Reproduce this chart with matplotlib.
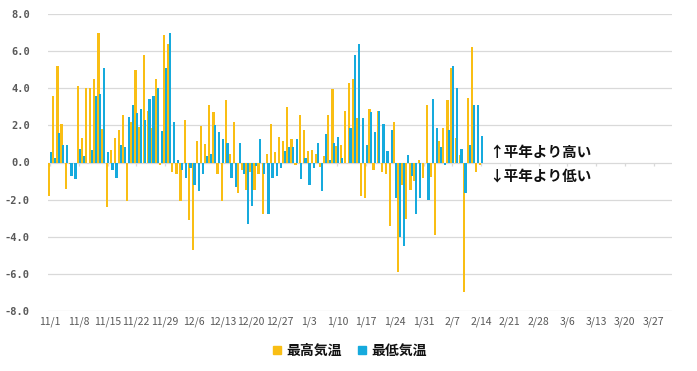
import numpy as np
import pandas as pd
import matplotlib
matplotlib.use("Agg")
import matplotlib.pyplot as plt
from matplotlib.patches import Patch

plt.rcParams['font.family'] = ['Noto Sans CJK JP', 'DejaVu Sans']

# ---- data: deviation from normal (°C), daily from 2023-11-01 ----
start_date = "2023-11-01"
end_date = "2024-03-31"

high_dev = [  # 最高気温
    -1.8, 3.6, 5.2, 2.1, -1.45, -0.1, 0.0, 4.1, 1.3, 4.0,
    4.0, 4.5, 7.0, 1.8, -2.4, 0.7, 1.3, 1.75, 2.55, -2.1,
    2.2, 5.0, 1.9, 5.8, 2.8, 1.85, 4.5, -0.15, 6.85, 6.4,
    -0.5, -0.6, -2.1, 2.3, -3.1, -4.7, 1.15, 1.95, 1.0, 3.1,
    2.7, -0.6, -2.1, 3.35, 0.45, 2.2, -1.65, -0.4, -1.5, -0.5,
    -1.5, -0.6, -2.8, 0.45, 2.1, 0.55, 1.4, 1.15, 3.0, 1.25,
    -0.12, 2.55, 1.75, 0.6, 0.7, 0.45, -0.25, 0.35, 2.55, 3.95,
    0.9, 0.95, 2.8, 4.3, 4.5, 2.4, -1.8, -1.9, 2.9, -0.4,
    2.8, -0.5, -0.6, -3.4, 2.2, -5.9, -1.2, -3.05, -1.5, -1.0,
    0.12, -0.85, 3.1, -0.8, -3.9, 1.15, 1.85, 3.35, 5.1, 1.3,
    0.4, -7.0, 3.5, 6.2, -0.5, -0.12,
]
low_dev = [  # 最低気温
    0.55, 0.23, 1.6, 0.92, 0.92, -0.72, -0.9, 0.71, 0.34, 0.0,
    0.7, 3.6, 3.7, 5.1, 0.55, -0.4, -0.82, 0.93, 0.84, 2.45,
    3.1, 2.64, 2.9, 2.3, 3.4, 3.6, 4.0, 1.72, 5.1, 7.0,
    2.2, 0.12, -0.4, -0.82, -0.27, -1.2, -1.52, -0.62, 0.35, 0.44,
    2.0, 1.62, 1.25, 1.04, -0.82, -1.3, 1.04, -0.6, -3.3, -2.37,
    -0.17, 1.25, -0.6, -2.8, -0.82, -0.72, -0.27, 0.6, 0.84, 0.84,
    1.25, -0.9, 0.22, -1.2, -0.3, 1.04, -1.52, 1.52, 0.12, 1.04,
    1.4, 0.22, 0.0, 1.84, 5.8, 6.4, 2.42, 0.93, 2.7, 1.63,
    2.8, 2.1, 0.6, 1.73, -1.9, -4.0, -4.5, 0.43, -0.72, -2.8,
    -1.9, 0.0, -2.0, 3.4, 1.84, 0.82, -0.12, 1.73, 5.2, 4.0,
    0.71, -1.66, 0.93, 3.1, 3.1, 1.41,
]
series_names = ["最高気温", "最低気温"]
y_ticks = [-8, -6, -4, -2, 0, 2, 4, 6, 8]
note_up = "↑平年より高い"
note_down = "↓平年より低い"

# ---- styling ----
YELLOW = "#F9BE14"
BLUE = "#16AADD"
GRID = "#D9D9D9"
TXT = "#595959"

dates = pd.date_range(start_date, end_date, freq="D")
n_days = len(dates)
x = np.arange(len(high_dev))

W, H = 697, 371
fig = plt.figure(figsize=(W / 100, H / 100), dpi=100)
ax = fig.add_axes([48 / W, 1 - 311 / H, 624 / W, 297 / H])

ax.bar(x - 0.21, high_dev, width=0.54, color=YELLOW, zorder=2, linewidth=0)
ax.bar(x + 0.21, low_dev, width=0.54, color=BLUE, zorder=3, linewidth=0)

ax.set_xlim(-0.5, n_days - 0.5)
ax.set_ylim(y_ticks[0], y_ticks[-1])

for v in y_ticks:
    ax.axhline(v, color=GRID, lw=0.9, zorder=1)

tick_pos = np.arange(0, n_days, 7)
ax.vlines(tick_pos, 0, -0.2, color=GRID, lw=0.9, zorder=1)

ax.set_xticks(tick_pos)
ax.set_xticklabels([f"{d.month}/{d.day}" for d in dates[tick_pos]],
                   fontsize=7.5, color=TXT)
ax.set_yticks(y_ticks)
ax.set_yticklabels([f"{v:.1f}" for v in y_ticks], family="DejaVu Sans Mono",
                   fontsize=7.5, fontweight="bold", color=TXT)
ax.tick_params(axis="both", length=0)
ax.tick_params(axis="y", pad=13)
ax.tick_params(axis="x", pad=4)
for s in ax.spines.values():
    s.set_visible(False)

ax.text(107.0, 0.55, note_up, fontsize=10.5, fontweight="bold",
        color="#111111", va="center", ha="left")
ax.text(107.0, -0.78, note_down, fontsize=10.5, fontweight="bold",
        color="#111111", va="center", ha="left")

handles = [Patch(color=YELLOW), Patch(color=BLUE)]
fig.legend(handles, series_names, loc="center", bbox_to_anchor=(350 / W, 1 - 351 / H),
           ncol=2, frameon=False, prop={"size": 10, "weight": "bold"},
           handlelength=0.55, handleheight=0.55, handletextpad=0.4,
           columnspacing=1.2, labelcolor="#111111")

fig.savefig("out.png", dpi=100)
